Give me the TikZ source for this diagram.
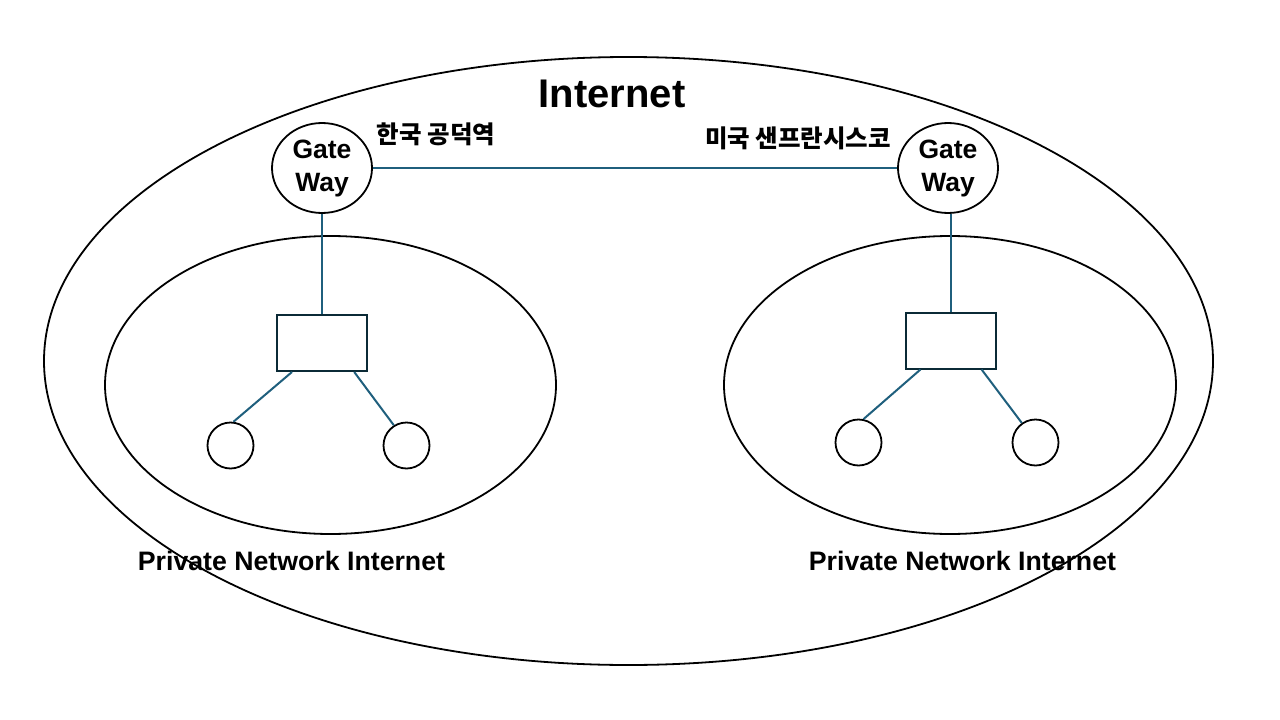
\documentclass[tikz,border=0pt]{standalone}
\usepackage{fontspec}
\setmainfont{Liberation Sans}
\newfontfamily\kr{Noto Sans CJK KR}
\usetikzlibrary{shapes.geometric}

\tikzset{
  net/.style={draw, ellipse, line width=1.8pt, inner sep=0pt, outer sep=0pt},
  gw/.style={draw, ellipse, line width=1.8pt, minimum width=100pt, minimum height=90pt,
    inner sep=0pt, align=center, font=\fontsize{26.5}{33}\selectfont\bfseries},
  sw/.style={draw=swcolor, rectangle, line width=2pt, minimum width=90pt, minimum height=56pt, inner sep=0pt},
  host/.style={draw, circle, line width=1.8pt, minimum size=46pt, inner sep=0pt},
  link/.style={draw=linkcolor, line width=2pt},
  label/.style={inner sep=0pt}
}
\definecolor{linkcolor}{HTML}{1F5F7D}
\definecolor{swcolor}{HTML}{0B2A36}

\begin{document}
\begin{tikzpicture}[x=1pt, y=-1pt]
    \useasboundingbox (0,0) rectangle (1280,720);
    % Redes
    \node[net, minimum width=1169pt, minimum height=608pt] (inet) at (628.5,361) {};
    \node[net, minimum width=451pt, minimum height=298pt] (lan1) at (330.5,385) {};
    \node[net, minimum width=452pt, minimum height=298pt] (lan2) at (950,385) {};

    % Textos
    \node[label, font=\fontsize{40}{40}\selectfont\bfseries] (inettxt) at (612,94) {Internet};
    \node[label, font=\kr\fontsize{24.5}{24.5}\selectfont\bfseries] (krtxt) at (436,134) {한국 공덕역};
    \node[label, font=\kr\fontsize{24.5}{24.5}\selectfont\bfseries] (ustxt) at (798,138) {미국 샌프란시스코};
    \node[label, font=\fontsize{26.7}{26.7}\selectfont\bfseries] (lan1txt) at (291.5,561) {Private Network Internet};
    \node[label, font=\fontsize{26.7}{26.7}\selectfont\bfseries] (lan2txt) at (962.5,561) {Private Network Internet};

    % Gateways, switches e hosts
    \node[gw] (gw1) at (322,168) {Gate\\Way};
    \node[gw] (gw2) at (948,168) {Gate\\Way};
    \node[sw] (sw1) at (322,343) {};
    \node[sw] (sw2) at (950.5,340.5) {};
    \node[host] (h1a) at (230.5,445.5) {};
    \node[host] (h1b) at (406.5,445.5) {};
    \node[host] (h2a) at (858.5,442.5) {};
    \node[host] (h2b) at (1035.5,442.5) {};

    % Ligacoes
    \draw[link] (gw1) -- (gw2);
    \draw[link] (gw1.south) -- (sw1.north);
    \draw[link] (gw2.south -| sw2.north) -- (sw2.north);
    \draw[link] (sw1.-136) -- (h1a.83);
    \draw[link] (sw1.-42) -- (h1b.122);
    \draw[link] (sw2.-136) -- (h2a.78);
    \draw[link] (sw2.-43) -- (h2b.125);
\end{tikzpicture}
\end{document}
